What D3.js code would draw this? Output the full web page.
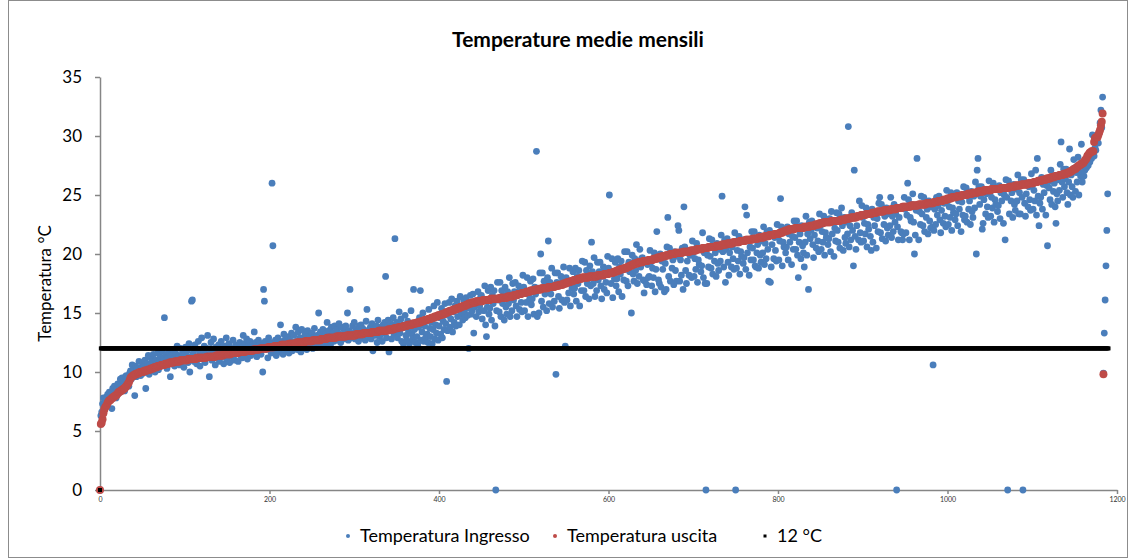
<html>
<head>
<meta charset="utf-8">
<title>Temperature medie mensili</title>
<script src="https://cdn.jsdelivr.net/npm/d3@7"></script>
<style>
  body { margin: 0; background: #ffffff; }
  text { font-family: "Lato", "Liberation Sans", sans-serif; }
</style>
</head>
<body>
<div id="grafico"></div>
<script>
// titoli ed etichette
const titolo = "Temperature medie mensili";
const titoloY = "Temperatura °C";
const nomiSerie = ["Temperatura Ingresso", "Temperatura uscita", "12 °C"];
const tickY = [0, 5, 10, 15, 20, 25, 30, 35];
const tickX = [0, 200, 400, 600, 800, 1000, 1200];

// Temperatura uscita (ordinata), un valore per indice
const uscita = [
0,5.6,5.7,6.0,6.5,6.8,7.0,7.1,7.2,7.4,
7.5,7.6,7.6,7.7,7.8,7.8,7.9,7.9,8.0,8.0,
8.1,8.2,8.3,8.3,8.4,8.4,8.5,8.5,8.6,8.6,
8.7,8.8,8.9,9.0,9.1,9.3,9.5,9.6,9.6,9.7,
9.7,9.8,9.8,9.8,9.9,9.9,9.9,10.0,10.0,10.0,
10.0,10.0,10.1,10.1,10.1,10.1,10.2,10.2,10.2,10.2,
10.3,10.3,10.3,10.3,10.4,10.4,10.4,10.4,10.5,10.5,
10.5,10.5,10.6,10.6,10.6,10.6,10.6,10.7,10.7,10.7,
10.7,10.7,10.8,10.8,10.8,10.8,10.8,10.8,10.9,10.9,
10.9,10.9,10.9,10.9,10.9,11.0,11.0,11.0,11.0,11.0,
11.0,11.0,11.0,11.0,11.1,11.1,11.1,11.1,11.1,11.1,
11.1,11.1,11.1,11.1,11.2,11.2,11.2,11.2,11.2,11.2,
11.2,11.2,11.2,11.2,11.2,11.2,11.3,11.3,11.3,11.3,
11.3,11.3,11.3,11.3,11.3,11.3,11.3,11.4,11.4,11.4,
11.4,11.4,11.4,11.4,11.4,11.4,11.5,11.5,11.5,11.5,
11.5,11.5,11.5,11.5,11.5,11.6,11.6,11.6,11.6,11.6,
11.6,11.6,11.6,11.6,11.7,11.7,11.7,11.7,11.7,11.7,
11.7,11.7,11.8,11.8,11.8,11.8,11.8,11.8,11.8,11.8,
11.8,11.9,11.9,11.9,11.9,11.9,11.9,11.9,11.9,12.0,
12.0,12.0,12.0,12.0,12.0,12.0,12.0,12.0,12.1,12.1,
12.1,12.1,12.1,12.1,12.1,12.1,12.2,12.2,12.2,12.2,
12.2,12.2,12.2,12.2,12.3,12.3,12.3,12.3,12.3,12.3,
12.3,12.3,12.3,12.4,12.4,12.4,12.4,12.4,12.4,12.4,
12.4,12.4,12.5,12.5,12.5,12.5,12.5,12.5,12.5,12.5,
12.5,12.5,12.6,12.6,12.6,12.6,12.6,12.6,12.6,12.6,
12.6,12.7,12.7,12.7,12.7,12.7,12.7,12.7,12.7,12.7,
12.7,12.8,12.8,12.8,12.8,12.8,12.8,12.8,12.9,12.9,
12.9,12.9,12.9,12.9,12.9,12.9,12.9,12.9,12.9,13.0,
13.0,13.0,13.0,13.0,13.0,13.0,13.0,13.0,13.0,13.0,
13.0,13.1,13.1,13.1,13.1,13.1,13.1,13.1,13.1,13.1,
13.1,13.1,13.2,13.2,13.2,13.2,13.2,13.2,13.2,13.2,
13.2,13.3,13.3,13.3,13.3,13.3,13.3,13.3,13.3,13.3,
13.3,13.4,13.4,13.4,13.4,13.4,13.4,13.4,13.4,13.5,
13.5,13.5,13.5,13.5,13.5,13.5,13.5,13.5,13.5,13.5,
13.6,13.6,13.6,13.6,13.6,13.6,13.6,13.7,13.7,13.7,
13.7,13.7,13.8,13.8,13.8,13.8,13.8,13.8,13.9,13.9,
13.9,13.9,13.9,14.0,14.0,14.0,14.0,14.0,14.0,14.1,
14.1,14.1,14.1,14.1,14.2,14.2,14.2,14.2,14.2,14.3,
14.3,14.3,14.3,14.4,14.4,14.4,14.4,14.5,14.5,14.5,
14.5,14.6,14.6,14.6,14.6,14.7,14.7,14.7,14.7,14.8,
14.8,14.8,14.8,14.9,14.9,14.9,14.9,15.0,15.0,15.0,
15.1,15.1,15.1,15.2,15.2,15.2,15.2,15.3,15.3,15.3,
15.3,15.4,15.4,15.4,15.4,15.5,15.5,15.5,15.6,15.6,
15.6,15.6,15.7,15.7,15.7,15.8,15.8,15.8,15.8,15.9,
15.9,15.9,15.9,15.9,16.0,16.0,16.0,16.0,16.0,16.0,
16.0,16.0,16.1,16.1,16.1,16.1,16.1,16.1,16.1,16.1,
16.1,16.2,16.2,16.2,16.2,16.2,16.2,16.2,16.2,16.2,
16.2,16.2,16.3,16.3,16.3,16.3,16.3,16.3,16.3,16.3,
16.3,16.4,16.4,16.4,16.4,16.4,16.4,16.4,16.5,16.5,
16.5,16.5,16.5,16.6,16.6,16.6,16.6,16.6,16.7,16.7,
16.7,16.7,16.7,16.8,16.8,16.8,16.8,16.8,16.9,16.9,
16.9,16.9,16.9,16.9,17.0,17.0,17.0,17.0,17.0,17.0,
17.0,17.1,17.1,17.1,17.1,17.1,17.1,17.1,17.1,17.2,
17.2,17.2,17.2,17.2,17.2,17.2,17.2,17.3,17.3,17.3,
17.3,17.3,17.4,17.4,17.4,17.4,17.4,17.5,17.5,17.5,
17.5,17.6,17.6,17.6,17.6,17.7,17.7,17.7,17.7,17.8,
17.8,17.8,17.8,17.8,17.9,17.9,17.9,17.9,17.9,18.0,
18.0,18.0,18.0,18.0,18.0,18.0,18.0,18.1,18.1,18.1,
18.1,18.1,18.1,18.1,18.1,18.1,18.1,18.2,18.2,18.2,
18.2,18.2,18.2,18.2,18.2,18.3,18.3,18.3,18.3,18.3,
18.3,18.4,18.4,18.4,18.4,18.4,18.5,18.5,18.5,18.5,
18.6,18.6,18.6,18.6,18.7,18.7,18.7,18.7,18.8,18.8,
18.8,18.8,18.9,18.9,18.9,19.0,19.0,19.0,19.1,19.1,
19.1,19.2,19.2,19.2,19.2,19.3,19.3,19.3,19.3,19.3,
19.3,19.4,19.4,19.4,19.4,19.4,19.4,19.5,19.5,19.5,
19.5,19.5,19.5,19.6,19.6,19.6,19.6,19.6,19.7,19.7,
19.7,19.7,19.7,19.8,19.8,19.8,19.8,19.8,19.9,19.9,
19.9,19.9,19.9,20.0,20.0,20.0,20.0,20.0,20.0,20.1,
20.1,20.1,20.1,20.1,20.1,20.1,20.1,20.1,20.2,20.2,
20.2,20.2,20.2,20.2,20.2,20.2,20.2,20.3,20.3,20.3,
20.3,20.3,20.3,20.3,20.4,20.4,20.4,20.4,20.4,20.4,
20.4,20.5,20.5,20.5,20.5,20.5,20.5,20.5,20.6,20.6,
20.6,20.6,20.6,20.6,20.6,20.6,20.6,20.7,20.7,20.7,
20.7,20.7,20.7,20.7,20.8,20.8,20.8,20.8,20.8,20.8,
20.9,20.9,20.9,20.9,20.9,20.9,20.9,21.0,21.0,21.0,
21.0,21.0,21.0,21.0,21.0,21.1,21.1,21.1,21.1,21.1,
21.1,21.1,21.2,21.2,21.2,21.2,21.2,21.2,21.2,21.2,
21.3,21.3,21.3,21.3,21.3,21.3,21.3,21.4,21.4,21.4,
21.4,21.4,21.4,21.4,21.5,21.5,21.5,21.5,21.5,21.5,
21.6,21.6,21.6,21.6,21.6,21.6,21.7,21.7,21.7,21.7,
21.7,21.7,21.8,21.8,21.8,21.8,21.9,21.9,21.9,22.0,
22.0,22.0,22.0,22.1,22.1,22.1,22.1,22.1,22.1,22.1,
22.2,22.2,22.2,22.2,22.2,22.2,22.2,22.2,22.2,22.2,
22.2,22.3,22.3,22.3,22.3,22.3,22.3,22.3,22.4,22.4,
22.4,22.4,22.4,22.4,22.5,22.5,22.5,22.5,22.5,22.6,
22.6,22.6,22.6,22.6,22.7,22.7,22.7,22.7,22.7,22.7,
22.7,22.7,22.7,22.8,22.8,22.8,22.8,22.8,22.8,22.8,
22.8,22.8,22.8,22.8,22.9,22.9,22.9,22.9,22.9,22.9,
23.0,23.0,23.0,23.0,23.0,23.0,23.1,23.1,23.1,23.1,
23.1,23.1,23.1,23.2,23.2,23.2,23.2,23.2,23.3,23.3,
23.3,23.3,23.3,23.3,23.4,23.4,23.4,23.4,23.4,23.4,
23.4,23.5,23.5,23.5,23.5,23.5,23.5,23.6,23.6,23.6,
23.6,23.6,23.6,23.6,23.6,23.7,23.7,23.7,23.7,23.7,
23.7,23.7,23.7,23.8,23.8,23.8,23.8,23.8,23.8,23.8,
23.9,23.9,23.9,23.9,23.9,23.9,23.9,24.0,24.0,24.0,
24.0,24.0,24.0,24.0,24.0,24.0,24.0,24.1,24.1,24.1,
24.1,24.1,24.1,24.1,24.1,24.1,24.2,24.2,24.2,24.2,
24.2,24.2,24.2,24.2,24.2,24.3,24.3,24.3,24.3,24.3,
24.3,24.3,24.3,24.3,24.4,24.4,24.4,24.4,24.4,24.5,
24.5,24.5,24.5,24.5,24.5,24.6,24.6,24.6,24.6,24.6,
24.7,24.7,24.7,24.7,24.7,24.8,24.8,24.8,24.8,24.8,
24.8,24.9,24.9,24.9,24.9,24.9,24.9,25.0,25.0,25.0,
25.0,25.0,25.0,25.0,25.1,25.1,25.1,25.1,25.1,25.1,
25.2,25.2,25.2,25.2,25.2,25.2,25.3,25.3,25.3,25.3,
25.3,25.3,25.3,25.4,25.4,25.4,25.4,25.4,25.4,25.4,
25.4,25.4,25.5,25.5,25.5,25.5,25.5,25.5,25.5,25.5,
25.5,25.5,25.5,25.6,25.6,25.6,25.6,25.6,25.6,25.6,
25.6,25.6,25.6,25.7,25.7,25.7,25.7,25.7,25.7,25.7,
25.8,25.8,25.8,25.8,25.8,25.8,25.8,25.9,25.9,25.9,
25.9,25.9,25.9,25.9,25.9,26.0,26.0,26.0,26.0,26.0,
26.0,26.0,26.1,26.1,26.1,26.1,26.1,26.2,26.2,26.2,
26.2,26.2,26.3,26.3,26.3,26.3,26.3,26.4,26.4,26.4,
26.4,26.4,26.5,26.5,26.5,26.5,26.5,26.6,26.6,26.6,
26.6,26.6,26.7,26.7,26.7,26.7,26.7,26.8,26.8,26.8,
26.8,26.8,26.9,26.9,26.9,27.0,27.0,27.1,27.1,27.2,
27.2,27.2,27.3,27.4,27.4,27.5,27.5,27.6,27.6,27.7,
27.7,27.8,27.9,28.0,28.1,28.3,28.4,28.5,28.6,28.6,
28.7,28.7,28.7,29.5,29.8,29.9,29.9,29.9,30.1,30.3,
30.5,30.9,31.2,31.9,9.8
];

// Temperatura ingresso, stesso indice
const ingresso = [
0,6.3,6.6,7.3,7.8,7.0,7.8,7.6,7.9,8.1,
7.9,8.3,7.7,8.2,6.9,8.6,8.0,8.8,8.3,7.8,
8.5,9.0,8.2,8.7,9.4,8.9,9.5,8.6,9.2,8.4,
9.6,9.7,9.1,9.5,8.8,9.9,10.1,9.4,10.6,9.8,
10.2,8.0,10.5,9.6,10.3,9.9,10.9,10.1,9.7,10.4,
10.8,9.9,10.5,11.0,8.6,10.3,10.7,11.4,9.8,10.6,
11.2,10.1,10.9,11.5,10.4,10.0,11.0,10.7,11.6,10.2,
10.9,11.3,10.5,11.8,10.8,11.1,14.6,10.6,11.5,10.3,
11.2,11.7,10.9,9.6,11.4,10.7,11.9,11.1,10.5,11.6,
10.8,12.2,11.0,11.4,10.6,12.0,11.3,10.9,11.7,10.4,
11.5,12.1,11.0,11.8,10.8,12.4,10.0,11.3,16.0,16.1,
11.6,10.9,12.3,11.2,10.7,11.9,12.6,11.4,10.5,11.8,
12.9,11.1,11.7,12.2,10.8,11.5,12.0,13.1,11.3,9.6,
11.9,12.5,11.0,11.6,12.8,11.2,10.6,12.1,11.8,11.4,
12.3,10.9,11.7,12.6,11.3,11.9,10.7,12.2,11.5,12.9,
11.1,11.8,12.4,10.8,11.6,12.0,11.3,12.7,11.9,11.0,
12.3,11.6,12.1,10.9,11.8,12.5,11.4,12.0,11.2,13.1,
11.9,12.4,11.5,12.8,11.1,12.2,11.7,12.6,11.4,12.0,
12.3,11.6,13.4,11.9,12.5,11.3,12.1,12.7,11.8,12.4,
11.5,12.2,10.0,17.0,16.0,12.6,11.9,12.3,11.2,12.9,
12.0,12.5,11.6,26.0,20.7,12.2,11.8,12.7,11.4,12.4,
12.9,11.7,12.3,14.0,12.0,12.6,11.5,13.2,12.1,12.8,
11.9,12.4,13.0,11.6,12.7,12.2,13.3,11.8,12.5,13.1,
12.0,13.8,12.6,11.9,13.4,12.3,12.9,11.7,13.6,12.4,
12.8,12.1,13.2,12.5,11.9,13.5,12.7,12.2,13.0,12.4,
13.3,12.0,12.9,13.7,12.5,12.1,13.1,12.6,15.0,12.3,
13.4,12.8,12.2,13.6,12.9,12.4,13.2,12.7,14.2,12.5,
13.5,13.0,12.3,13.8,12.8,13.3,12.6,13.9,13.1,12.7,
13.6,12.9,14.1,13.2,12.5,13.8,13.0,13.7,12.8,13.4,
13.9,13.1,15.0,12.7,13.5,17.0,13.3,12.9,13.9,13.2,
14.2,12.8,13.6,13.4,13.1,12.6,13.9,13.4,14.0,12.9,
13.7,13.5,13.2,12.7,14.3,15.3,13.5,13.0,13.6,13.8,
12.8,14.1,11.8,13.6,13.2,13.1,13.9,12.5,14.4,13.4,
13.0,13.8,13.7,12.6,14.0,13.3,14.2,18.1,12.9,13.8,
14.4,11.7,13.5,14.1,12.8,13.9,14.6,13.2,21.3,13.6,
14.2,12.9,13.7,15.1,13.3,14.5,12.6,14.0,12.4,13.8,
14.8,13.1,12.7,14.3,13.5,12.4,13.9,15.2,13.2,12.8,
17.0,13.6,12.5,14.1,13.0,12.3,13.8,14.6,16.9,12.7,
13.4,15.0,12.6,13.9,12.9,14.4,13.2,12.5,15.3,13.7,
13.0,14.2,12.4,13.6,15.6,12.8,14.0,13.3,15.9,12.7,
13.9,14.6,13.2,15.4,12.9,14.3,13.6,15.8,14.1,9.2,
13.5,14.8,15.9,13.8,14.5,16.2,13.4,15.1,14.2,15.6,
13.9,16.0,14.7,15.3,14.0,16.4,14.9,15.5,14.4,16.1,
15.0,14.6,16.3,15.4,14.8,12.0,15.7,16.5,14.9,15.2,
16.6,13.3,15.5,16.0,14.7,15.9,16.8,15.1,15.6,16.3,
16.5,14.5,16.1,15.2,17.3,14.0,13.0,15.5,16.9,14.9,
15.4,17.2,14.4,16.5,15.8,16.9,13.9,0,15.2,17.6,
16.1,15.1,17.6,14.7,16.9,15.8,16.5,14.4,17.2,15.5,
14.9,16.8,15.8,18.0,14.7,16.5,15.2,17.5,16.1,16.8,
17.6,15.6,14.7,16.5,17.3,15.3,17.0,15.9,15.1,18.2,
17.2,15.2,16.7,15.9,18.0,14.7,16.6,16.2,17.7,15.7,
16.2,17.9,14.9,17.2,16.6,28.7,14.7,17.1,15.0,18.4,
20.0,16.0,18.4,15.5,17.7,16.6,17.3,15.2,18.0,21.1,
15.8,17.6,16.6,18.8,15.5,17.3,16.0,18.4,9.8,17.6,
18.4,16.4,15.4,17.3,18.1,16.1,17.8,18.9,15.9,12.2,
18.0,16.1,17.6,16.7,18.8,15.6,17.5,17.1,18.5,16.6,
17.1,18.8,16.0,18.1,17.5,18.6,15.6,18.0,16.9,19.4,
17.9,16.9,19.3,16.4,18.6,17.5,18.2,16.2,19.0,17.3,
21.0,18.5,17.5,19.7,16.4,18.2,16.9,19.3,17.8,18.5,
19.3,17.3,16.2,18.1,18.9,17.0,18.7,17.6,16.7,19.8,
18.8,25.0,18.4,17.5,19.6,16.3,18.3,17.9,19.3,17.3,
17.9,19.6,16.8,18.9,18.3,19.4,16.4,18.8,17.8,20.2,
18.7,17.7,20.2,17.3,19.3,18.5,19.2,15.0,19.9,18.3,
17.7,19.6,18.6,20.8,17.5,19.4,18.1,20.4,18.9,19.6,
19.7,17.8,16.7,17.7,19.4,17.4,19.1,18.0,18.1,20.3,
19.3,17.3,18.8,18.0,20.1,16.8,18.7,21.9,19.8,17.8,
17.5,20.0,17.2,19.4,18.7,19.8,16.8,19.2,17.0,20.6,
23.1,18.1,20.5,17.7,19.9,18.8,19.5,17.4,20.2,18.6,
17.7,19.8,22.4,22.0,17.7,19.5,18.2,20.5,17.0,24.0,
20.6,18.6,17.5,19.4,20.2,18.2,19.9,19.9,18.0,21.1,
20.1,18.1,19.6,18.7,20.9,17.6,19.5,19.1,20.5,18.5,
19.0,21.8,18.0,20.1,17.5,0,17.5,19.9,18.9,21.3,
19.8,18.8,21.2,18.3,20.5,19.4,20.1,18.1,20.9,19.2,
18.6,20.4,19.4,21.6,24.9,20.2,18.9,21.2,17.6,20.4,
21.3,19.3,18.2,20.1,20.9,18.9,20.6,19.6,18.7,21.8,
0,18.8,20.3,19.4,21.5,18.3,20.2,19.8,21.2,19.2,
19.7,24.0,18.7,23.3,20.1,21.2,18.2,20.6,19.5,21.9,
20.5,19.5,21.9,19.0,18.9,20.1,20.8,18.8,21.6,19.9,
19.3,21.1,20.1,22.3,19.1,20.9,19.6,21.9,20.4,17.7,
22.0,17.6,18.9,20.8,21.6,19.6,21.4,20.3,19.4,22.5,
21.5,19.5,21.1,24.7,22.3,19.0,21.0,20.6,22.0,20.1,
20.6,22.3,19.5,21.7,21.0,22.1,19.1,21.5,20.4,22.8,
21.4,20.4,22.8,19.9,18.0,21.0,21.7,19.6,22.4,20.7,
20.1,18.9,21.0,23.2,19.9,21.7,17.0,22.7,21.3,22.0,
22.8,20.8,19.7,21.6,22.5,20.5,22.2,21.1,20.2,23.4,
22.4,20.4,21.9,21.0,23.2,19.9,21.8,21.4,22.8,20.8,
21.3,23.0,20.2,23.6,21.7,22.8,19.8,22.2,21.1,23.5,
22.0,21.0,23.4,20.5,22.8,23.9,22.4,20.3,23.1,21.4,
20.9,22.7,21.7,30.8,20.6,22.4,21.2,23.5,22.0,19.0,
27.1,21.5,20.4,22.4,23.2,21.2,24.5,21.8,21.0,24.1,
23.1,21.1,22.6,21.7,23.9,20.6,22.5,22.1,23.5,21.5,
20.3,23.8,21.0,23.1,22.4,23.5,20.5,23.0,21.9,24.3,
24.8,21.8,24.2,21.3,23.5,22.5,23.2,21.1,23.9,22.2,
21.6,23.4,22.4,24.8,21.4,23.2,21.9,24.2,22.7,23.4,
0,22.3,21.2,23.1,23.9,21.9,21.8,21.2,21.7,24.8,
23.8,21.8,23.3,26.0,24.6,21.2,23.1,22.8,24.2,25.1,
22.7,20.0,21.6,23.7,28.1,24.1,21.2,23.6,22.5,24.9,
23.4,22.4,24.8,21.9,24.1,23.1,23.8,21.7,24.5,22.8,
22.2,24.0,22.3,10.6,22.0,23.8,22.5,24.8,23.3,24.1,
24.9,22.9,21.8,23.7,24.5,22.6,24.3,23.2,22.3,25.4,
24.5,22.5,24.0,23.1,25.2,22.0,23.9,23.5,24.9,22.9,
23.4,25.2,22.4,24.5,23.8,24.9,21.9,24.4,23.3,25.7,
22.9,23.2,25.6,22.7,24.9,23.8,24.5,22.5,25.3,23.6,
23.1,24.9,23.9,26.1,20.0,27.1,28.1,25.7,24.2,24.9,
25.7,22.1,22.6,24.6,25.4,23.4,25.1,24.0,23.1,26.2,
25.2,23.2,24.8,23.9,26.0,22.7,24.6,24.2,25.6,23.6,
24.1,25.8,23.0,25.2,24.5,25.6,22.6,25.0,21.2,26.3,
24.8,0,26.2,23.4,25.6,24.5,25.2,23.1,25.9,24.2,
23.7,25.5,24.5,26.7,23.4,25.2,23.4,26.3,24.8,0,
26.3,24.3,23.2,25.1,25.9,24.0,25.7,24.6,23.7,26.8,
25.8,23.8,25.4,24.5,27.1,23.3,28.1,24.9,22.4,24.3,
24.8,26.5,23.8,25.9,25.2,26.3,23.3,25.8,20.7,26.1,
25.6,24.6,27.1,24.2,26.4,25.3,26.0,24.0,22.6,25.1,
24.5,26.3,25.4,27.6,29.5,26.1,24.8,27.2,25.7,26.4,
27.2,25.2,24.2,26.1,28.9,25.0,26.7,25.7,24.8,28.0,
27.3,25.3,26.9,26.1,28.2,25.0,26.9,26.6,29.3,26.1,
27.4,26.6,27.1,27.7,27.3,27.9,27.5,28.2,27.8,28.4,
28.1,30.1,28.6,28.3,29.0,28.8,29.6,30.0,29.4,30.3,
31.1,32.2,30.7,33.3,9.9,13.3,16.1,19.0,22.0,25.1
];

// serie di riferimento 12 °C: primo punto a 0, poi costante fino all'indice 1190
const valoreSoglia = 12;
const ultimoIndiceSoglia = 1190;
const soglia = [0].concat(d3.range(1, ultimoIndiceSoglia + 1).map(() => valoreSoglia));

const colori = ["#4a7ebb", "#be4b48", "#000000"];

// dimensioni
const width = 1135, height = 559;
const margin = {top: 77, right: 18, bottom: 69, left: 100};

const svg = d3.select("#grafico")
    .append("svg")
    .attr("width", width)
    .attr("height", height);

// bordo del grafico
svg.append("rect")
    .attr("x", 8.5).attr("y", 0.5)
    .attr("width", 1119).attr("height", 557)
    .attr("fill", "none")
    .attr("stroke", "#8c8c8c")
    .attr("stroke-width", 1);

var x = d3.scaleLinear()
    .domain([0, 1200])
    .range([margin.left, width - margin.right]);

var y = d3.scaleLinear()
    .domain([0, 35])
    .range([height - margin.bottom, margin.top]);

// titolo
svg.append("text")
    .attr("x", 578).attr("y", 47)
    .attr("text-anchor", "middle")
    .style("font-weight", "bold")
    .style("font-size", "21px")
    .text(titolo);

// asse Y
var assey = svg.append("g")
    .attr("transform", "translate(" + margin.left + ",0)")
    .call(d3.axisLeft(y).tickValues(tickY).tickSize(5).tickSizeOuter(0).tickPadding(13));
assey.selectAll("text").style("font-size", "17px").style("fill", "#000");

// asse X
var assex = svg.append("g")
    .attr("transform", "translate(0," + y(0) + ")")
    .call(d3.axisBottom(x).tickValues(tickX).tickFormat(d3.format("d"))
        .tickSize(4).tickSizeOuter(0).tickPadding(3));
assex.selectAll("text").style("font-size", "7px").style("fill", "#333");

svg.selectAll(".domain, .tick line")
    .attr("stroke", "#868686")
    .attr("stroke-width", 1.5);

// titolo asse Y
svg.append("text")
    .attr("transform", "translate(51," + y(17.5) + ") rotate(-90)")
    .attr("text-anchor", "middle")
    .style("font-size", "17px")
    .text(titoloY);

// punti: ingresso
svg.append("g")
    .selectAll("circle")
    .data(ingresso)
    .join("circle")
    .attr("cx", (d, i) => x(i))
    .attr("cy", d => y(d))
    .attr("r", 3.4)
    .attr("fill", colori[0]);

// punti: uscita
svg.append("g")
    .selectAll("circle")
    .data(uscita)
    .join("circle")
    .attr("cx", (d, i) => x(i))
    .attr("cy", d => y(d))
    .attr("r", 4)
    .attr("fill", colori[1]);

// punti: 12 °C
svg.append("g")
    .selectAll("rect")
    .data(soglia)
    .join("rect")
    .attr("x", (d, i) => x(i) - 2)
    .attr("y", d => y(d) - 2)
    .attr("width", 4)
    .attr("height", 4)
    .attr("fill", colori[2]);

// legenda
var legenda = svg.append("g").attr("transform", "translate(0,536)");
var posLeg = [348, 555, 765];
nomiSerie.forEach(function(nome, i) {
    if (i < 2) {
        legenda.append("circle")
            .attr("cx", posLeg[i]).attr("cy", 0).attr("r", 2)
            .attr("fill", colori[i]);
    } else {
        legenda.append("rect")
            .attr("x", posLeg[i] - 1.5).attr("y", -1.5)
            .attr("width", 3).attr("height", 3)
            .attr("fill", colori[i]);
    }
    legenda.append("text")
        .attr("x", posLeg[i] + 12).attr("y", 6)
        .style("font-size", "18px")
        .text(nome);
});
</script>
</body>
</html>
